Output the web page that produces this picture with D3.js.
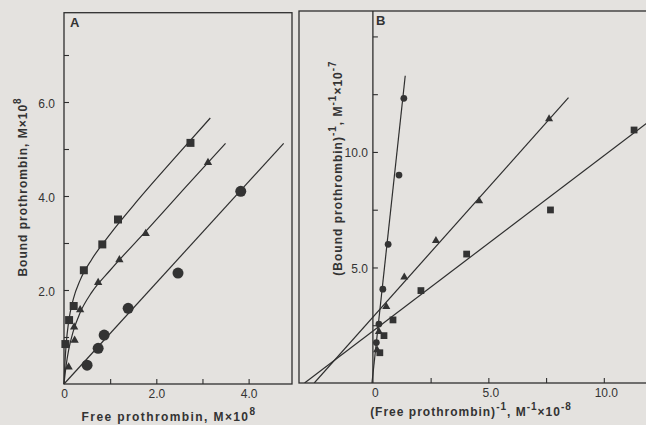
<!DOCTYPE html>
<html lang="en">
<head>
  <meta charset="UTF-8">
  <title>Prothrombin binding – direct and double-reciprocal plots</title>
  <script src="https://cdn.jsdelivr.net/npm/d3@7"></script>
  <style>
    html, body { margin: 0; padding: 0; background: #e4e2df; }
    svg { display: block; }
    .tick text { font-family: "Liberation Sans", Arial, sans-serif; font-size: 12px; fill: #333; }
    .title { font-family: "Liberation Sans", Arial, sans-serif; font-size: 12px; font-weight: bold; fill: #333; letter-spacing: 1px; }
  </style>
</head>
<body>
<script>
  // ------------- Panel A: bound vs free (M x 10^8) -------------
  const squaresA_free  = [0.03, 0.11, 0.21, 0.43, 0.83, 1.17, 2.74];
  const squaresA_bound = [0.85, 1.36, 1.66, 2.42, 2.97, 3.50, 5.13];
  const trianglesA_free  = [0.10, 0.23, 0.22, 0.35, 0.74, 1.20, 1.77, 3.12];
  const trianglesA_bound = [0.36, 0.93, 1.21, 1.58, 2.16, 2.64, 3.20, 4.71];
  const circlesA_free  = [0.50, 0.74, 0.87, 1.39, 2.47, 3.83];
  const circlesA_bound = [0.40, 0.76, 1.04, 1.61, 2.36, 4.10];

  // fitted curves
  const squareCurveA_free  = [0, 0.02, 0.05, 0.1, 0.2, 0.35, 0.6, 1.0, 1.6, 2.4, 3.17];
  const squareCurveA_bound = [0, 0.44, 0.88, 1.32, 1.80, 2.21, 2.65, 3.19, 3.91, 4.81, 5.66];
  const triangleCurveA_free  = [0, 0.05, 0.1, 0.2, 0.35, 0.6, 1.0, 1.8, 2.6, 3.5];
  const triangleCurveA_bound = [0, 0.42, 0.72, 1.12, 1.52, 1.95, 2.42, 3.28, 4.15, 5.12];
  const circleLineA_free  = [0, 4.76];
  const circleLineA_bound = [0, 5.12];

  const ticksA_x = [1, 2, 3, 4];
  const labelsA_x = [0, 2, 4];
  const ticksA_y = [1, 2, 3, 4, 5, 6, 7];
  const labelsA_y = [2, 4, 6];

  // ------------- Panel B: double reciprocal -------------
  const circlesB_x = [0.15, 0.26, 0.43, 0.66, 1.13, 1.34];
  const circlesB_y = [1.75, 2.55, 4.06, 6.00, 9.00, 12.32];
  const trianglesB_x = [0.18, 0.26, 0.58, 1.36, 2.73, 4.60, 7.63];
  const trianglesB_y = [1.43, 2.22, 3.30, 4.58, 6.16, 7.88, 11.43];
  const squaresB_x = [0.30, 0.48, 0.87, 2.08, 4.06, 7.69, 11.31];
  const squaresB_y = [1.31, 2.05, 2.73, 4.00, 5.58, 7.49, 10.95];

  const circleLineB_x = [-0.04, 1.40];
  const circleLineB_y = [0, 13.3];
  const triangleLineB_x = [-2.54, 8.47];
  const triangleLineB_y = [0, 12.35];
  const squareLineB_x = [-2.96, 11.85];
  const squareLineB_y = [0, 11.24];

  const ticksB_x = [2.5, 5, 7.5, 10];
  const labelsB_x = [0, 5, 10];
  const ticksB_y = [2.5, 5, 7.5, 10, 12.5, 15];
  const labelsB_y = [5, 10];

  const ink = "#2e2e2e";
  const width = 646, height = 425;

  const svg = d3.select("body").append("svg")
      .attr("width", width)
      .attr("height", height);

  const zip = (xs, ys) => xs.map((x, i) => [x, ys[i]]);
  const fmt = v => v === 0 ? "0" : d3.format(".1f")(v);

  // ------------- Scales -------------
  const xA = d3.scaleLinear().domain([0, 4.94]).range([64, 292]);
  const yA = d3.scaleLinear().domain([0, 7.9]).range([384, 12.7]);
  const xB = d3.scaleLinear().domain([-3.2, 12.0]).range([299, 650]);
  const yB = d3.scaleLinear().domain([0, 16.1]).range([383, 11]);

  // ------------- Frames -------------
  svg.append("rect")
      .attr("x", xA(0)).attr("y", yA(7.9))
      .attr("width", xA(4.94) - xA(0))
      .attr("height", yA(0) - yA(7.9))
      .attr("fill", "none").attr("stroke", ink).attr("stroke-width", 1.3);

  svg.append("rect")
      .attr("x", xB(-3.2)).attr("y", yB(16.1))
      .attr("width", xB(12.0) - xB(-3.2) + 10)
      .attr("height", yB(0) - yB(16.1))
      .attr("fill", "none").attr("stroke", ink).attr("stroke-width", 1.3);

  svg.append("line")
      .attr("x1", xB(0)).attr("x2", xB(0))
      .attr("y1", yB(16.1)).attr("y2", yB(0))
      .attr("stroke", ink).attr("stroke-width", 1.3);

  // ------------- Axes -------------
  function axisGroup(axis, tx, ty) {
    const g = svg.append("g").attr("transform", `translate(${tx},${ty})`).call(axis);
    g.select(".domain").remove();
    g.selectAll(".tick line").attr("stroke", ink).attr("stroke-width", 1.1);
    return g;
  }

  axisGroup(d3.axisBottom(xA).tickValues(ticksA_x).tickSize(-5).tickFormat(""), 0, yA(0));
  axisGroup(d3.axisBottom(xA).tickValues(labelsA_x).tickSize(0).tickPadding(5).tickFormat(fmt), 0, yA(0));
  axisGroup(d3.axisLeft(yA).tickValues(ticksA_y).tickSize(-5).tickFormat(""), xA(0), 0);
  axisGroup(d3.axisLeft(yA).tickValues(labelsA_y).tickSize(0).tickPadding(9).tickFormat(fmt), xA(0), 2);

  axisGroup(d3.axisBottom(xB).tickValues(ticksB_x).tickSize(-5).tickFormat(""), 0, yB(0));
  axisGroup(d3.axisBottom(xB).tickValues(labelsB_x).tickSize(0).tickPadding(5).tickFormat(fmt), 2, yB(0));
  axisGroup(d3.axisLeft(yB).tickValues(ticksB_y).tickSize(-5).tickFormat(""), xB(0), 0);
  axisGroup(d3.axisLeft(yB).tickValues(labelsB_y).tickSize(0).tickPadding(5).tickFormat(fmt), xB(0), 1);

  // ------------- Lines -------------
  function drawLine(x, y, xs, ys, curve) {
    const line = d3.line().x(d => x(d[0])).y(d => y(d[1])).curve(curve || d3.curveLinear);
    svg.append("path")
        .attr("d", line(zip(xs, ys)))
        .attr("fill", "none")
        .attr("stroke", ink)
        .attr("stroke-width", 1.2);
  }

  drawLine(xA, yA, squareCurveA_free, squareCurveA_bound, d3.curveMonotoneX);
  drawLine(xA, yA, triangleCurveA_free, triangleCurveA_bound, d3.curveMonotoneX);
  drawLine(xA, yA, circleLineA_free, circleLineA_bound);

  svg.append("defs").append("clipPath").attr("id", "clipB")
    .append("rect").attr("x", xB(-3.2)).attr("y", yB(16.1))
    .attr("width", 400).attr("height", yB(0) - yB(16.1));

  const gB = svg.append("g").attr("clip-path", "url(#clipB)");
  function drawLineB(xs, ys) {
    const line = d3.line().x(d => xB(d[0])).y(d => yB(d[1]));
    gB.append("path")
        .attr("d", line(zip(xs, ys)))
        .attr("fill", "none")
        .attr("stroke", ink)
        .attr("stroke-width", 1.2);
  }
  drawLineB(circleLineB_x, circleLineB_y);
  drawLineB(triangleLineB_x, triangleLineB_y);
  drawLineB(squareLineB_x, squareLineB_y);

  // ------------- Markers -------------
  function drawPoints(x, y, xs, ys, type, size) {
    svg.append("g").selectAll("path")
      .data(zip(xs, ys))
      .join("path")
        .attr("transform", d => `translate(${x(d[0])},${y(d[1])})`)
        .attr("d", d3.symbol().type(type).size(size))
        .attr("fill", "#333");
  }

  drawPoints(xA, yA, squaresA_free, squaresA_bound, d3.symbolSquare, 64);
  drawPoints(xA, yA, trianglesA_free, trianglesA_bound, d3.symbolTriangle, 30);
  drawPoints(xA, yA, circlesA_free, circlesA_bound, d3.symbolCircle, 95);

  drawPoints(xB, yB, circlesB_x, circlesB_y, d3.symbolCircle, 36);
  drawPoints(xB, yB, trianglesB_x, trianglesB_y, d3.symbolTriangle, 28);
  drawPoints(xB, yB, squaresB_x, squaresB_y, d3.symbolSquare, 46);

  // ------------- Titles -------------
  svg.append("text").attr("class", "title")
      .attr("x", 70).attr("y", 27).style("font-size", "13px").text("A");
  svg.append("text").attr("class", "title")
      .attr("x", 376).attr("y", 25).style("font-size", "13px").text("B");

  function title(x, y, rotate, parts, spacing) {
    const t = svg.append("text").attr("class", "title")
        .attr("text-anchor", "middle")
        .style("letter-spacing", spacing || null)
        .attr("transform", `translate(${x},${y})` + (rotate ? " rotate(-90)" : ""));
    parts.forEach(p => {
      t.append("tspan")
        .attr("dy", p.dy || 0)
        .style("font-size", p.sup ? "10px" : null)
        .text(p.text);
    });
  }

  title(169, 421, false, [
    { text: "Free  prothrombin, M\u00d710" },
    { text: "8", sup: true, dy: -6 }
  ], "1.4px");
  title(27, 187, true, [
    { text: "Bound  prothrombin, M\u00d710" },
    { text: "8", sup: true, dy: -6 }
  ]);
  title(471, 416, false, [
    { text: "(Free prothrombin)" },
    { text: "-1", sup: true, dy: -6 },
    { text: ", M", dy: 6 },
    { text: "-1", sup: true, dy: -6 },
    { text: "\u00d710", dy: 6 },
    { text: "-8", sup: true, dy: -6 }
  ]);
  title(342, 168, true, [
    { text: "(Bound prothrombin)" },
    { text: "-1", sup: true, dy: -6 },
    { text: ", M", dy: 6 },
    { text: "-1", sup: true, dy: -6 },
    { text: "\u00d710", dy: 6 },
    { text: "-7", sup: true, dy: -6 }
  ]);
</script>
</body>
</html>
